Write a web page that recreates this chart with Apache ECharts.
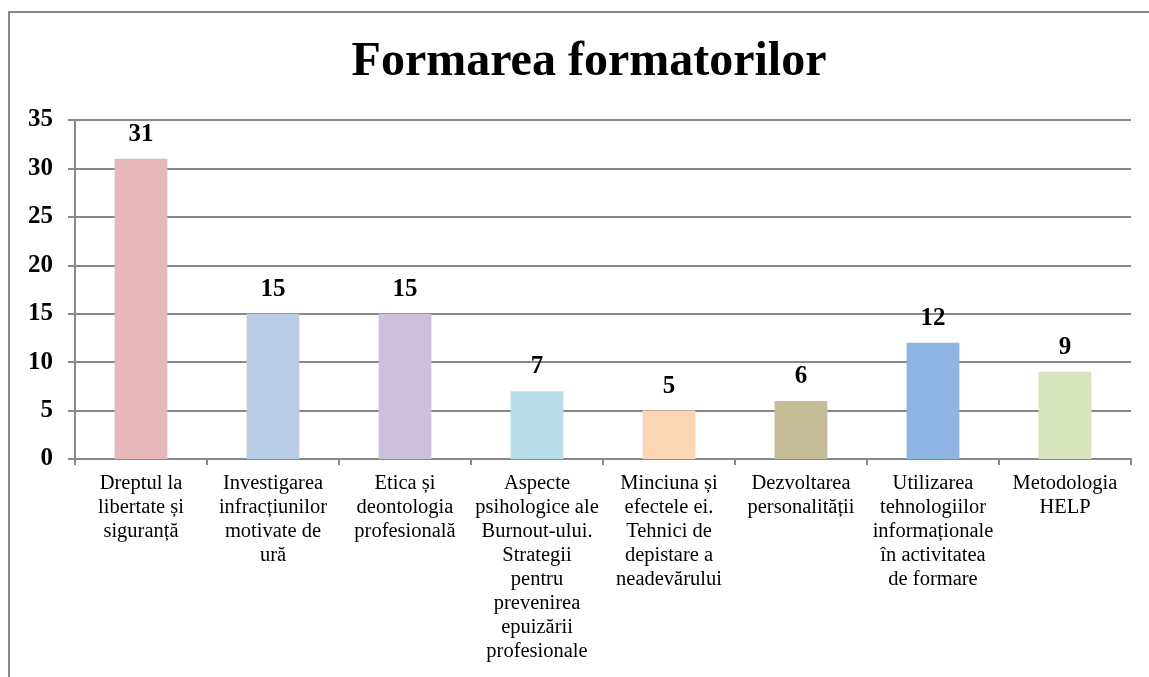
<!DOCTYPE html>
<html>
<head>
<meta charset="utf-8">
<title>Formarea formatorilor</title>
<script src="https://cdn.jsdelivr.net/npm/echarts@6/dist/echarts.min.js"></script>
<style>
  html, body { margin: 0; padding: 0; background: #fff; }
  #chart { width: 1149px; height: 677px; }
</style>
</head>
<body>
<div id="chart"></div>
<script>
// categorii (rupte pe rânduri ca în original)
const categories = [
  "Dreptul la\nlibertate și\nsiguranță",
  "Investigarea\ninfracțiunilor\nmotivate de\nură",
  "Etica și\ndeontologia\nprofesională",
  "Aspecte\npsihologice ale\nBurnout-ului.\nStrategii\npentru\nprevenirea\nepuizării\nprofesionale",
  "Minciuna și\nefectele ei.\nTehnici de\ndepistare a\nneadevărului",
  "Dezvoltarea\npersonalității",
  "Utilizarea\ntehnologiilor\ninformaționale\nîn activitatea\nde formare",
  "Metodologia\nHELP"
];
const values = [31, 15, 15, 7, 5, 6, 12, 9];
const barColors = ["#E6B9B8", "#B9CDE5", "#CCC1DA", "#B7DEE8", "#FCD5B5", "#C4BD97", "#8EB4E3", "#D7E4BD"];
const yTicks = { min: 0, max: 35, interval: 5 };

const serif = "'Liberation Serif', 'Times New Roman', serif";
const gray = "#888888";

const myChart = echarts.init(document.getElementById("chart"));
const option = {
  animation: false,
  title: {
    text: "Formarea formatorilor",
    left: 584,
    textAlign: "center",
    top: 34,
    textStyle: { fontFamily: serif, fontSize: 48, fontWeight: "bold", color: "#000" }
  },
  // chenarul graficului (tăiat la dreapta și jos)
  graphic: [{
    type: "polyline",
    shape: { points: [[9, 677], [9, 12], [1149, 12]] },
    style: { stroke: gray, lineWidth: 2, fill: null },
    silent: true
  }],
  grid: { left: 75, right: 18, top: 120, bottom: 218, containLabel: false },
  xAxis: {
    type: "category",
    data: categories,
    axisLine: { lineStyle: { color: gray, width: 2 } },
    axisTick: { show: true, length: 6, lineStyle: { color: gray, width: 2 } },
    axisLabel: {
      interval: 0,
      margin: 13,
      fontFamily: serif,
      fontSize: 20.5,
      lineHeight: 24,
      color: "#000"
    }
  },
  yAxis: {
    type: "value",
    min: yTicks.min,
    max: yTicks.max,
    interval: yTicks.interval,
    axisLine: { show: true, lineStyle: { color: gray, width: 2 } },
    axisTick: { show: true, length: 7, lineStyle: { color: gray, width: 2 } },
    splitLine: { lineStyle: { color: gray, width: 2 } },
    axisLabel: {
      margin: 22,
      fontFamily: serif,
      fontSize: 25,
      fontWeight: "bold",
      color: "#000"
    }
  },
  series: [{
    type: "bar",
    barWidth: "40%",
    data: values.map((v, i) => ({ value: v, itemStyle: { color: barColors[i] } })),
    label: {
      show: true,
      position: "top",
      distance: 12,
      fontFamily: serif,
      fontSize: 25,
      fontWeight: "bold",
      color: "#000"
    }
  }]
};
myChart.setOption(option);
</script>
</body>
</html>
